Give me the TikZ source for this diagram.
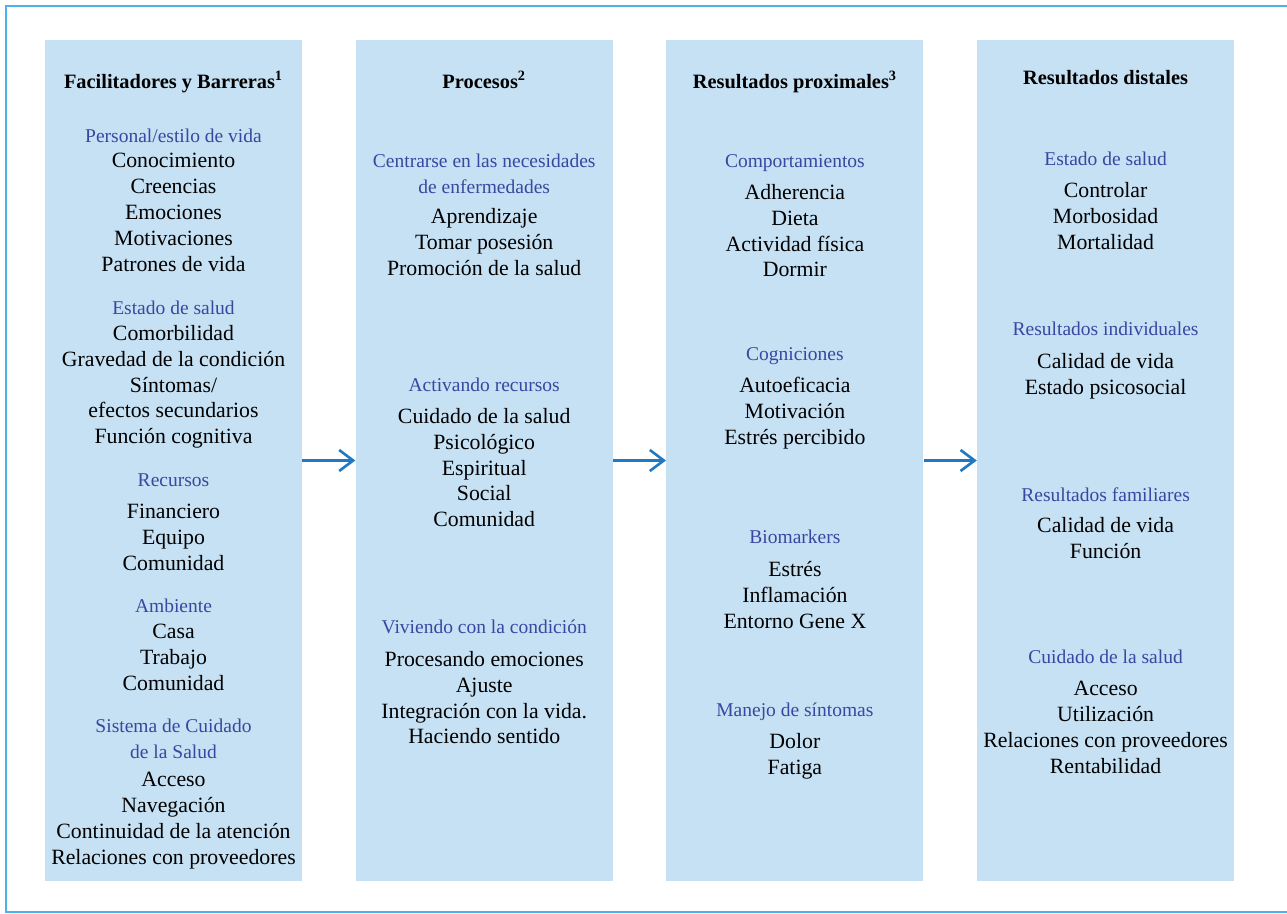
\documentclass[tikz,border=0pt]{standalone}
\usepackage{fontspec}
\setmainfont{Liberation Serif}
\usetikzlibrary{positioning, arrows.meta}

\definecolor{colfill}{HTML}{C6E1F4}
\definecolor{subblue}{HTML}{3A46A0}
\definecolor{arrowblue}{HTML}{1F78C1}
\definecolor{frameblue}{HTML}{4DB3E6}

\begin{document}
\begin{tikzpicture}[
    col/.style={rectangle, fill=colfill, minimum width=5.14cm,
                minimum height=16.82cm, inner sep=0pt},
    lines/.style={anchor=north, align=center, inner sep=0pt,
                execute at begin node=\strut},
    txt/.style={lines, yshift=8pt, font={\fontsize{12.4}{14.7}\selectfont}},
    head/.style={lines, yshift=10.29pt, font={\fontsize{11.6}{14.7}\selectfont\bfseries}},
    sub/.style={lines, yshift=10.29pt, text=subblue, font={\fontsize{11.1}{14.7}\selectfont}},
    arrow/.style={-{Straight Barb[length=2.8mm, width=4.2mm]}, arrowblue, line width=1.5pt}
]
  \useasboundingbox (0,0) rectangle (25.74,-18.28);
  \draw[frameblue, line width=1.1pt] (26,-0.12) -- (0.12,-0.12) -- (0.12,-18.24) -- (26,-18.24);

  % the four columns
  \node[col] (fac) at (3.47,-9.21) {};
  \node[col, right=1.06cm of fac] (pro) {};
  \node[col, right=1.06cm of pro] (prox) {};
  \node[col, right=1.06cm of prox] (dist) {};

  % facilitadores y barreras
  \node[head] (facH) at (fac |- 0,-1.76) {Facilitadores y Barreras\textsuperscript{1}};
  \node[sub] (fac1) at (fac |- 0,-2.84) {Personal/estilo de vida};
  \node[txt] (fac1i) at (fac |- 0,-3.34) {Conocimiento\\Creencias\\Emociones\\Motivaciones\\Patrones de vida};
  \node[sub] (fac2) at (fac |- 0,-6.28) {Estado de salud};
  \node[txt] (fac2i) at (fac |- 0,-6.78) {Comorbilidad\\Gravedad de la condición\\Síntomas/\\efectos secundarios\\Función cognitiva};
  \node[sub] (fac3) at (fac |- 0,-9.72) {Recursos};
  \node[txt] (fac3i) at (fac |- 0,-10.36) {Financiero\\Equipo\\Comunidad};
  \node[sub] (fac4) at (fac |- 0,-12.24) {Ambiente};
  \node[txt] (fac4i) at (fac |- 0,-12.76) {Casa\\Trabajo\\Comunidad};
  \node[sub] (fac5) at (fac |- 0,-14.74) {Sistema de Cuidado\\de la Salud};
  \node[txt] (fac5i) at (fac |- 0,-15.72) {Acceso\\Navegación\\Continuidad de la atención\\Relaciones con proveedores};

  % procesos
  \node[head] (proH) at (pro |- 0,-1.76) {Procesos\textsuperscript{2}};
  \node[sub] (pro1) at (pro |- 0,-3.44) {Centrarse en las necesidades\\de enfermedades};
  \node[txt] (pro1i) at (pro |- 0,-4.44) {Aprendizaje\\Tomar posesión\\Promoción de la salud};
  \node[sub] (pro2) at (pro |- 0,-7.82) {Activando recursos};
  \node[txt] (pro2i) at (pro |- 0,-8.44) {Cuidado de la salud\\Psicológico\\Espiritual\\Social\\Comunidad};
  \node[sub] (pro3) at (pro |- 0,-12.66) {Viviendo con la condición};
  \node[txt] (pro3i) at (pro |- 0,-13.30) {Procesando emociones\\Ajuste\\Integración con la vida.\\Haciendo sentido};

  % resultados proximales
  \node[head] (proxH) at (prox |- 0,-1.76) {Resultados proximales\textsuperscript{3}};
  \node[sub] (prox1) at (prox |- 0,-3.34) {Comportamientos};
  \node[txt] (prox1i) at (prox |- 0,-3.96) {Adherencia\\Dieta\\Actividad física\\Dormir};
  \node[sub] (prox2) at (prox |- 0,-7.20) {Cogniciones};
  \node[txt] (prox2i) at (prox |- 0,-7.82) {Autoeficacia\\Motivación\\Estrés percibido};
  \node[sub] (prox3) at (prox |- 0,-10.86) {Biomarkers};
  \node[txt] (prox3i) at (prox |- 0,-11.50) {Estrés\\Inflamación\\Entorno Gene X};
  \node[sub] (prox4) at (prox |- 0,-14.32) {Manejo de síntomas};
  \node[txt] (prox4i) at (prox |- 0,-14.94) {Dolor\\Fatiga};

  % resultados distales
  \node[head] (distH) at (dist |- 0,-1.68) {Resultados distales};
  \node[sub] (dist1) at (dist |- 0,-3.30) {Estado de salud};
  \node[txt] (dist1i) at (dist |- 0,-3.92) {Controlar\\Morbosidad\\Mortalidad};
  \node[sub] (dist2) at (dist |- 0,-6.70) {Resultados individuales};
  \node[txt] (dist2i) at (dist |- 0,-7.34) {Calidad de vida\\Estado psicosocial};
  \node[sub] (dist3) at (dist |- 0,-10.02) {Resultados familiares};
  \node[txt] (dist3i) at (dist |- 0,-10.62) {Calidad de vida\\Función};
  \node[sub] (dist4) at (dist |- 0,-13.26) {Cuidado de la salud};
  \node[txt] (dist4i) at (dist |- 0,-13.90) {Acceso\\Utilización\\Relaciones con proveedores\\Rentabilidad};

  \draw[arrow] (fac.east) -- (pro.west);
  \draw[arrow] (pro.east) -- (prox.west);
  \draw[arrow] (prox.east) -- (dist.west);
\end{tikzpicture}
\end{document}
